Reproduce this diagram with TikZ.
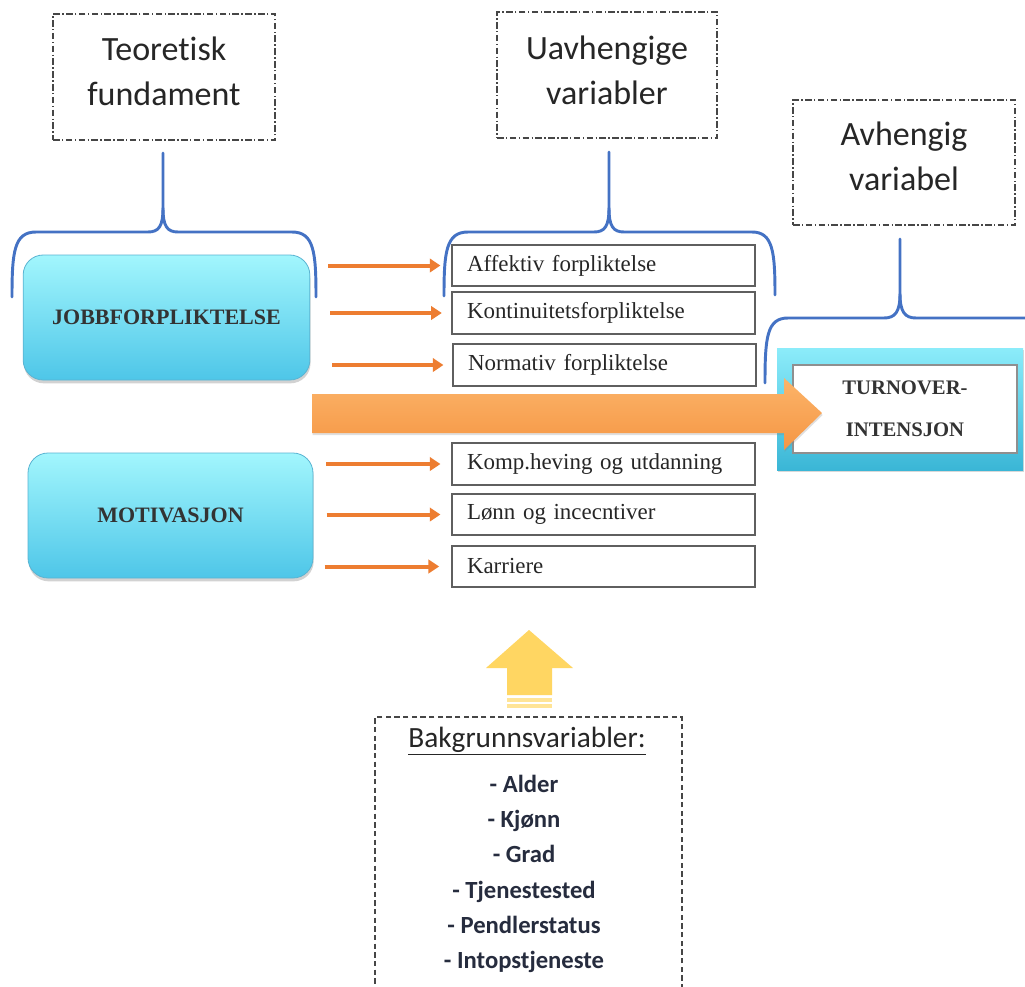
\documentclass[tikz,border=0pt]{standalone}
\usepackage{fontspec}
\setmainfont{Liberation Serif}
\newfontfamily\calfont[Ligatures=NoCommon]{Carlito}
\usetikzlibrary{arrows.meta,shadows,calc}

\definecolor{braceblue}{RGB}{68,114,196}
\definecolor{arrorange}{RGB}{237,125,49}
\definecolor{frameline}{RGB}{70,70,70}
\definecolor{itemline}{RGB}{95,95,95}
\definecolor{cyantop}{RGB}{162,246,253}
\definecolor{cyanbot}{RGB}{78,198,232}
\definecolor{cyanedge}{RGB}{90,180,210}
\definecolor{tvtop}{RGB}{140,236,250}
\definecolor{tvbot}{RGB}{58,182,214}
\definecolor{bigtop}{RGB}{252,180,105}
\definecolor{bigbot}{RGB}{245,150,68}
\definecolor{gold}{RGB}{255,214,98}
\definecolor{goldpale}{RGB}{255,228,150}
\definecolor{listtext}{RGB}{38,44,62}

\tikzset{
  hdrbox/.style={draw=frameline, line width=0.8pt,
    dash pattern=on 5pt off 1.8pt on 1pt off 1.8pt},
  hdrtext/.style={font=\calfont\fontsize{25.5pt}{33.75pt}\selectfont,
    align=center, text=black!85},
  cyanbox/.style={rounded corners=15pt, top color=cyantop, bottom color=cyanbot,
    draw=cyanedge, line width=0.6pt,
    drop shadow={opacity=0.35, shadow xshift=0.5pt, shadow yshift=-2.5pt},
    font=\bfseries\fontsize{16.5pt}{20pt}\selectfont, text=black!80},
  itembox/.style={draw=itemline, line width=1.3pt, fill=white,
    inner xsep=11.25pt, text width=204.75pt, align=left,
    minimum height=31pt,
    drop shadow={opacity=0.25, shadow xshift=0.6pt, shadow yshift=-0.8pt},
    font=\fontsize{17.2pt}{20pt}\selectfont, text=black!85},
  oarrow/.style={draw=arrorange, line width=3pt,
    -{Triangle[length=8pt,width=10pt]}},
  bracket/.style={draw=braceblue, line width=2.2pt, line cap=round},
}

\begin{document}
\begin{tikzpicture}[x=0.75pt,y=-0.75pt]
\useasboundingbox (0,0) rectangle (1025,986);
\clip (0,0) rectangle (1025,986);
\fill[white] (0,0) rectangle (1025,986);

% ---- header boxes
\node[hdrbox, minimum width=166.5pt, minimum height=94.5pt] (theo) at (164,77) {};
\node[hdrtext] (theot) at (164,71) {Teoretisk\\fundament};
\node[hdrbox, minimum width=165pt, minimum height=94.5pt] (indep) at (607,75) {};
\node[hdrtext] (indept) at (607,70) {Uavhengige\\variabler};
\node[hdrbox, minimum width=166.5pt, minimum height=93.75pt] (dep) at (904,162.5) {};
\node[hdrtext] (dept) at (904,156.5) {Avhengig\\variabel};

% ---- braces
\draw[bracket] (12,297) .. controls (12,252) and (14,232) .. (36,232) -- (148,232)
  .. controls (159,232) and (163,226) .. (163,208) -- (163,153);
\draw[bracket] (163,208) .. controls (163,226) and (167,232) .. (178,232) -- (292,232)
  .. controls (314,232) and (316,252) .. (316,297);

\draw[bracket] (444,296) .. controls (444,252) and (446,232) .. (468,232) -- (594,232)
  .. controls (605,232) and (609,226) .. (609,208) -- (609,152);
\draw[bracket] (609,208) .. controls (609,226) and (613,232) .. (624,232) -- (752,232)
  .. controls (773,232) and (775,252) .. (775,295);

\draw[bracket] (765,383) .. controls (765,337) and (767,318) .. (788,318) -- (884,318)
  .. controls (895,318) and (900,312) .. (900,294) -- (900,239);
\draw[bracket] (900,294) .. controls (900,312) and (905,318) .. (916,318) -- (1040,318);

% ---- left construct boxes
\node[cyanbox, minimum width=215pt, minimum height=93.75pt] (jobb) at (166.5,317.5) {JOBBFORPLIKTELSE};
\node[cyanbox, minimum width=213.75pt, minimum height=93.75pt] (motiv) at (170.5,515.5) {MOTIVASJON};

% ---- independent variable boxes
\node[itembox] (aff)  at (603.5,265.5) {Affektiv forpliktelse};
\node[itembox] (kont) at (603.5,313)   {Kontinuitetsforpliktelse};
\node[itembox] (norm) at (604.5,365)   {Normativ forpliktelse};
\node[itembox] (komp) at (603.5,464)   {Komp.heving og utdanning};
\node[itembox] (lonn) at (603.5,514.5) {Lønn og incecntiver};
\node[itembox] (karr) at (603.5,566.5) {Karriere};

% ---- small arrows
\draw[oarrow, shorten <=13.5pt, shorten >=8pt] (jobb.east |- aff.west) -- (aff.west);
\draw[oarrow, shorten <=15pt, shorten >=7pt] (jobb.east |- kont.west) -- (kont.west);
\draw[oarrow, shorten <=16.5pt, shorten >=6.5pt] (jobb.east |- norm.west) -- (norm.west);
\draw[oarrow, shorten <=9.5pt, shorten >=8pt] (motiv.east |- komp.west) -- (komp.west);
\draw[oarrow, shorten <=10pt, shorten >=8pt] (motiv.east |- lonn.west) -- (lonn.west);
\draw[oarrow, shorten <=8.5pt, shorten >=9pt] (motiv.east |- karr.west) -- (karr.west);

% ---- dependent variable box
\node[top color=tvtop, bottom color=tvbot, minimum width=184.5pt, minimum height=91.5pt,
  drop shadow={opacity=0.3, shadow xshift=0.5pt, shadow yshift=-1.5pt}] (tvout) at (900,409) {};
\node[draw=itemline!70, line width=0.8pt, fill=white, minimum width=168pt, minimum height=66pt,
  drop shadow={opacity=0.3, shadow xshift=0.8pt, shadow yshift=-1pt},
  align=center, font=\bfseries\fontsize{15.5pt}{31.5pt}\selectfont, text=black!80]
  (tv) at (905,409) {TURNOVER-\\INTENSJON};

% ---- main block arrow into the dependent variable
\shade[top color=bigtop, bottom color=bigbot,
  drop shadow={opacity=0.25, shadow xshift=0.5pt, shadow yshift=-1.5pt}]
  (312,394) -- (784,394) -- (784,378) -- (822,413) -- (784,450) -- (784,433) -- (312,433) -- cycle;

% ---- background variables
\node[draw=frameline, line width=0.9pt, dash pattern=on 4pt off 2.5pt,
  minimum width=230.25pt, minimum height=214.5pt] (bg) at (528.5,860) {};
\node[font=\calfont\fontsize{22pt}{26pt}\selectfont, text=black!85] (bgt) at (527,741)
  {\underline{Bakgrunnsvariabler:}};
\node[font=\calfont\bfseries\fontsize{18.5pt}{26.5pt}\selectfont, text=listtext, align=center]
  (bglist) at (524,874)
  {- Alder\\- Kjønn\\- Grad\\- Tjenestested\\- Pendlerstatus\\- Intopstjeneste};

% ---- upward block arrow from background variables
\fill[gold] (529,630) -- (573,668) -- (552,668) -- (552,695) -- (507,695) -- (507,668) -- (486,668) -- cycle;
\fill[goldpale] (507,698) rectangle (552,701.5);
\fill[goldpale] (507,704) rectangle (552,707.5);
\end{tikzpicture}
\end{document}
